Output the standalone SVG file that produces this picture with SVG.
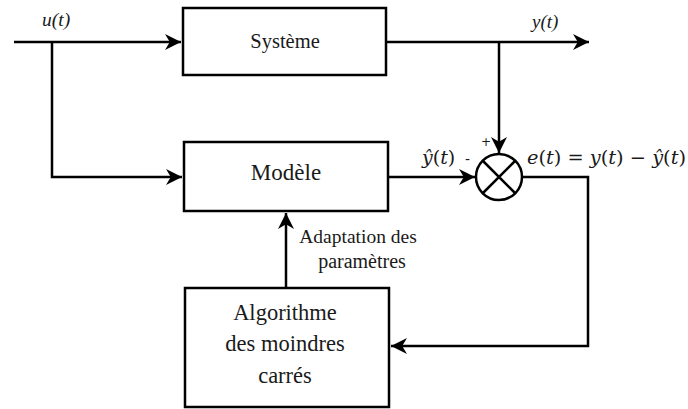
<svg xmlns="http://www.w3.org/2000/svg" width="688" height="409" viewBox="0 0 688 409">
<defs>
<marker id="ah" viewBox="0 0 10 10" refX="10" refY="5" markerWidth="16" markerHeight="16" markerUnits="userSpaceOnUse" orient="auto">
<path d="M0,0 L10,5 L0,10 L3,5 Z" fill="#000"/>
</marker>
</defs>
<style>
.box{fill:#fff;stroke:#000;stroke-width:2.5}
.ln{fill:none;stroke:#000;stroke-width:2.5}
text{fill:#1a1a1a}
.lbl{text-anchor:middle}
</style>
<g id="connectors">
<path class="ln" d="M14,42 H181" marker-end="url(#ah)"/>
<path class="ln" d="M52,42 V177 H182" marker-end="url(#ah)"/>
<path class="ln" d="M386,42 H589" marker-end="url(#ah)"/>
<path class="ln" d="M499,42 V153" marker-end="url(#ah)"/>
<path class="ln" d="M388,177 H475" marker-end="url(#ah)"/>
<path class="ln" d="M522,177 H588 V346 H391" marker-end="url(#ah)"/>
<path class="ln" d="M286,288 V213" marker-end="url(#ah)"/>
</g>
<g id="systeme" font-family="Liberation Serif, Times New Roman, serif">
<rect class="box" x="183" y="8" width="203" height="67"/>
<text class="lbl" x="285" y="48" font-size="20.5">Système</text>
</g>
<g id="modele" font-family="Liberation Serif, Times New Roman, serif">
<rect class="box" x="184" y="142" width="204" height="69"/>
<text class="lbl" x="286" y="180" font-size="23">Modèle</text>
</g>
<g id="algo" font-family="Liberation Serif, Times New Roman, serif" font-size="22.5">
<rect class="box" x="185" y="288" width="204" height="119"/>
<text class="lbl" x="285" y="320">Algorithme</text>
<text class="lbl" x="285" y="351">des moindres</text>
<text class="lbl" x="285" y="383">carrés</text>
</g>
<g id="comparateur">
<circle cx="499" cy="177" r="23" fill="#fff" stroke="#000" stroke-width="2.5"/>
<path class="ln" d="M483,161 L515,193 M515,161 L483,193"/>
</g>
<g id="labels" font-family="Liberation Serif, Times New Roman, serif">
<text x="42" y="26" font-size="19.5" font-style="italic">u(t)</text>
<text x="532" y="28" font-size="19" font-style="italic">y(t)</text>
<text x="422" y="164" font-size="19" font-family="DejaVu Serif, serif"><tspan font-style="italic">ŷ</tspan>(<tspan font-style="italic">t</tspan>)</text>
<text x="465" y="164" font-size="14" font-family="DejaVu Sans, sans-serif">-</text>
<text x="481" y="146" font-size="12" font-family="DejaVu Sans, sans-serif">+</text>
<text x="527" y="164" font-size="19" font-family="DejaVu Serif, serif" textLength="159" lengthAdjust="spacingAndGlyphs"><tspan font-style="italic">e</tspan>(<tspan font-style="italic">t</tspan>) = <tspan font-style="italic">y</tspan>(<tspan font-style="italic">t</tspan>) − <tspan font-style="italic">ŷ</tspan>(<tspan font-style="italic">t</tspan>)</text>
<text class="lbl" x="358" y="243" font-size="19.5">Adaptation des</text>
<text class="lbl" x="362" y="268" font-size="20">paramètres</text>
</g>
</svg>
